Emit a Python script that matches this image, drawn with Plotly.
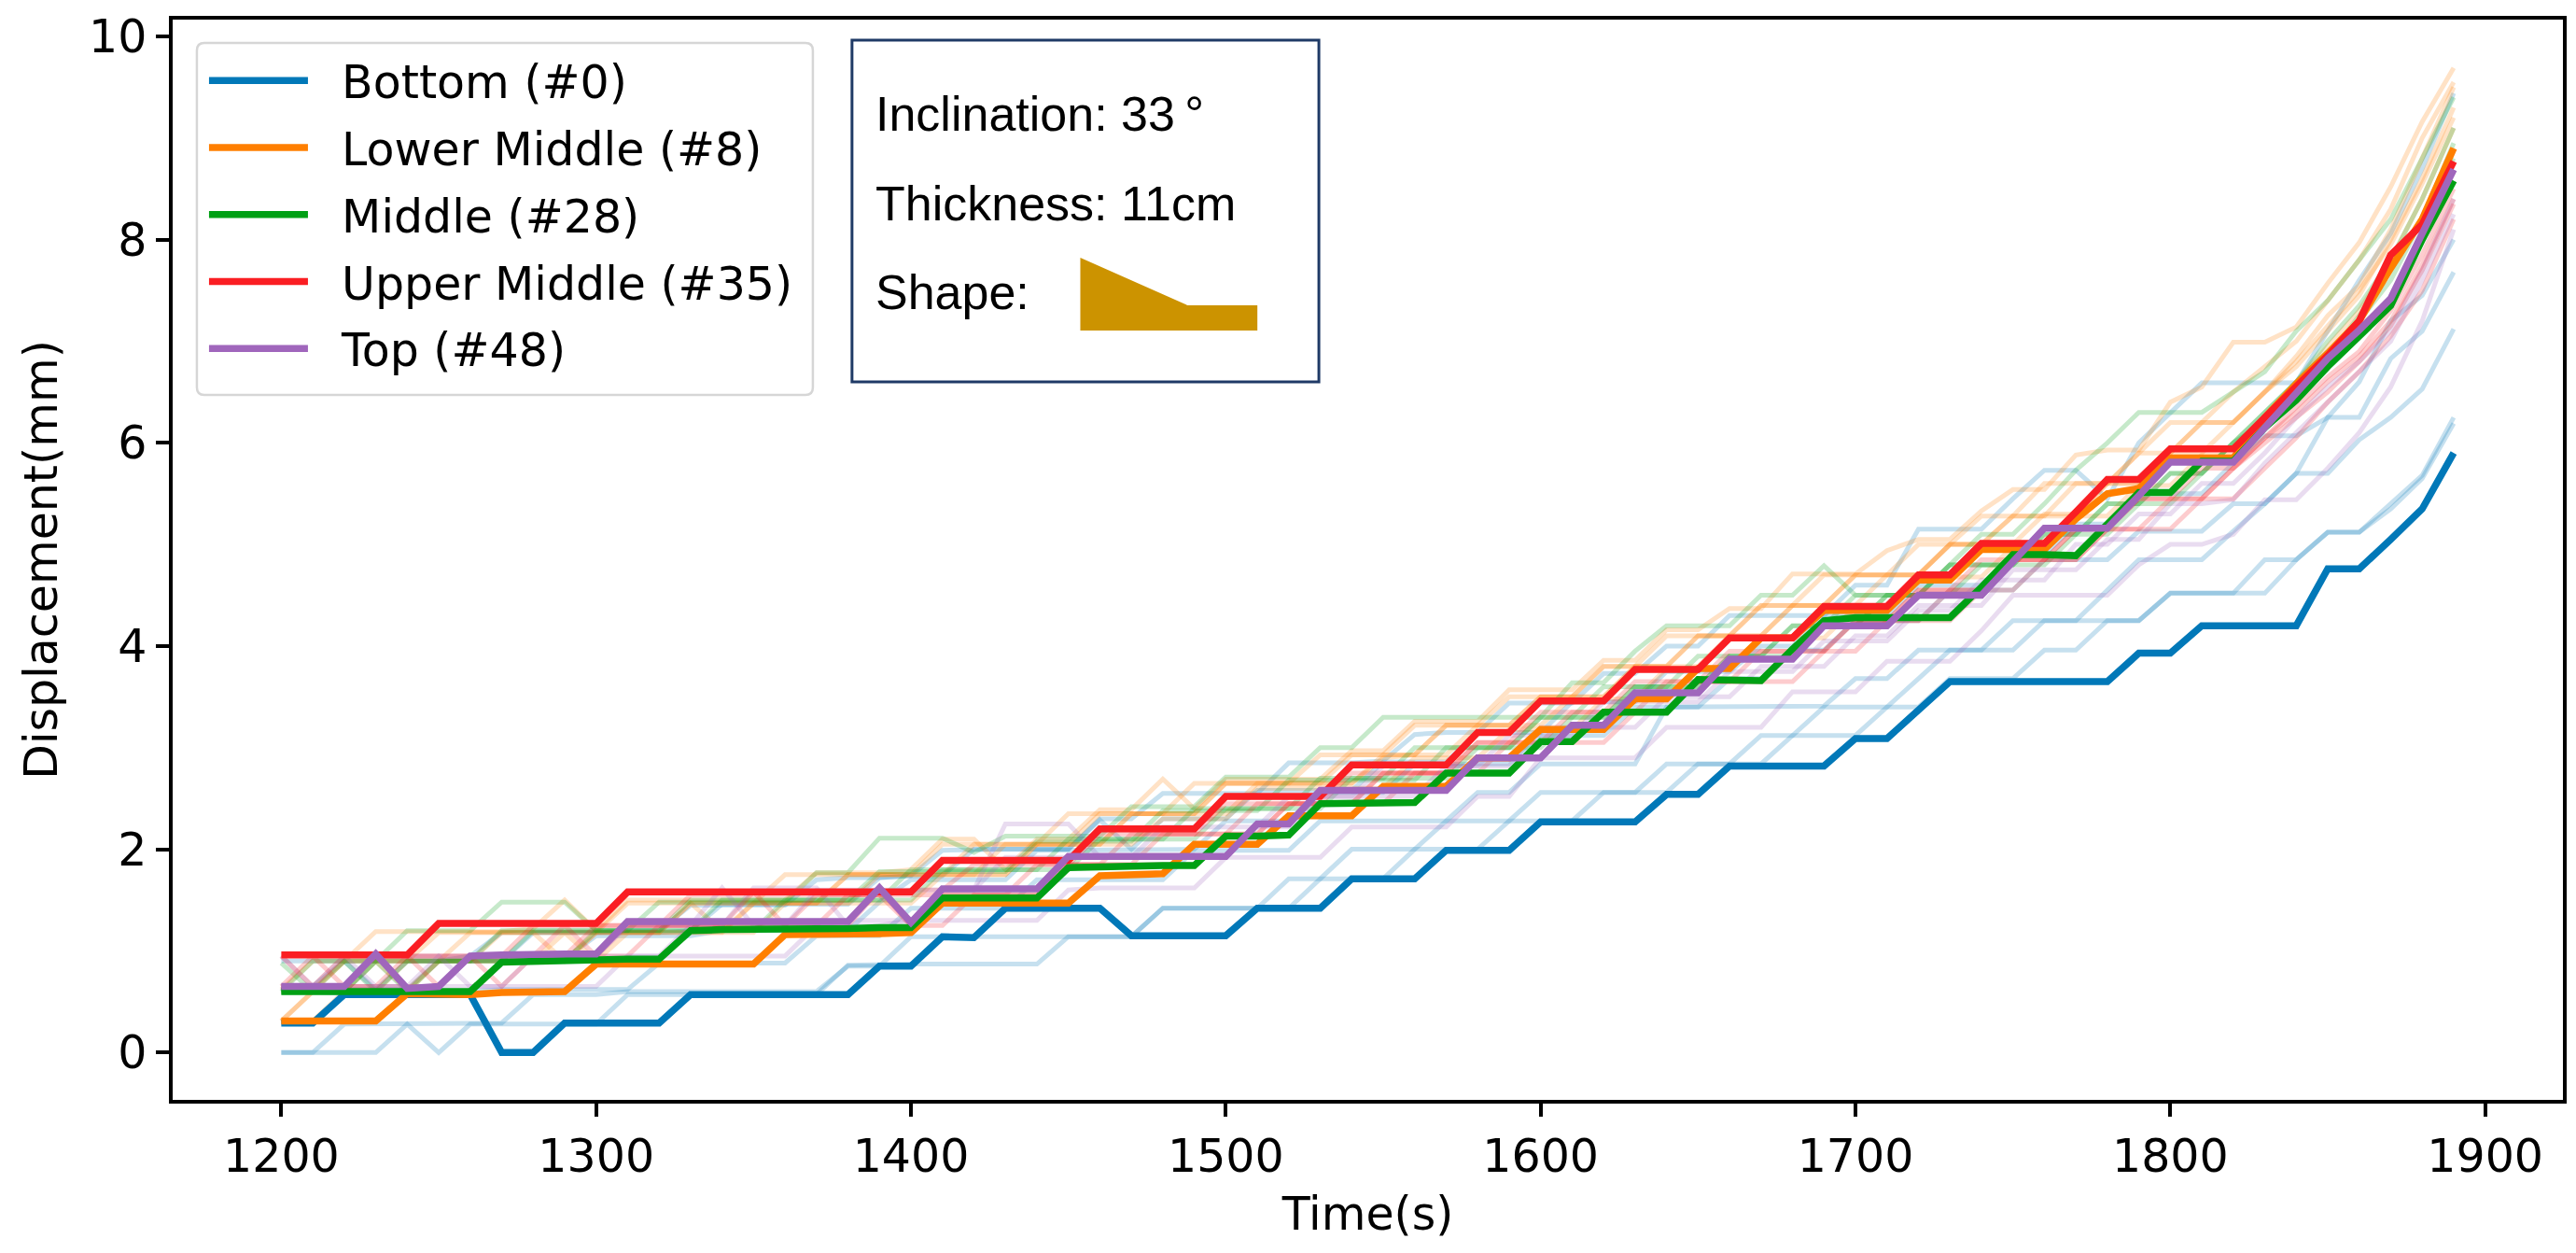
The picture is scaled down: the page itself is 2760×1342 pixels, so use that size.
import plotly.graph_objects as go

time_s = list(range(1200, 1900, 10))

bottom = [.29,.29,.57,.57,.57,.57,.57,0,0,.29, .29,.29,.29,.57,.57,.57,.57,.57,.57,.85,
 .85,1.14,1.13,1.42,1.42,1.42,1.42,1.15,1.15,1.15, 1.15,1.42,1.42,1.42,1.71,1.71,1.71,1.99,1.99,1.99,
 2.27,2.27,2.27,2.27,2.54,2.54,2.82,2.82,2.82,2.82, 3.09,3.09,3.37,3.65,3.65,3.65,3.65,3.65,3.65,3.93,
 3.93,4.2,4.2,4.2,4.2,4.76,4.76,5.05,5.35,5.9]
lower_middle = [.31,.31,.31,.31,.58,.57,.57,.59,.6,.6, .87,.87,.87,.87,.87,.87,1.16,1.16,1.16,1.17,
 1.18,1.47,1.47,1.47,1.47,1.47,1.74,1.75,1.76,2.05, 2.05,2.05,2.33,2.33,2.33,2.62,2.62,2.62,2.9,2.9,
 3.18,3.18,3.18,3.48,3.48,3.78,3.78,4.08,4.08,4.35, 4.35,4.35,4.65,4.65,4.95,4.95,4.95,5.25,5.5,5.55,
 5.85,5.85,5.85,6.25,6.58,6.88,7.2,7.72,8.2,8.9]
middle = [.6,.6,.6,.6,.6,.6,.6,.89,.9,.91, .92,.92,.92,1.2,1.21,1.21,1.22,1.22,1.22,1.23,
 1.23,1.52,1.52,1.52,1.52,1.82,1.83,1.83,1.84,1.84, 2.13,2.13,2.14,2.45,2.45,2.46,2.46,2.75,2.75,2.75,
 3.06,3.06,3.35,3.35,3.35,3.67,3.67,3.66,3.97,4.25, 4.28,4.28,4.28,4.28,4.58,4.9,4.9,4.89,5.2,5.51,
 5.51,5.82,5.82,6.15,6.42,6.75,7.05,7.35,8.0,8.58]
upper_middle = [.96,.96,.96,.96,.96,1.27,1.27,1.27,1.27,1.27, 1.27,1.58,1.58,1.58,1.58,1.58,1.58,1.58,1.58,1.58,
 1.58,1.89,1.89,1.89,1.89,1.89,2.2,2.2,2.2,2.2, 2.52,2.52,2.52,2.52,2.83,2.83,2.83,2.83,3.15,3.15,
 3.46,3.46,3.46,3.77,3.77,3.77,4.08,4.08,4.08,4.39, 4.39,4.39,4.7,4.7,5.01,5.01,5.01,5.32,5.64,5.64,
 5.94,5.94,5.94,6.25,6.56,6.86,7.2,7.85,8.15,8.77]
top = [.65,.65,.65,.97,.63,.65,.95,.96,.97,.97, .97,1.29,1.29,1.29,1.29,1.29,1.29,1.29,1.29,1.62,
 1.28,1.61,1.61,1.61,1.61,1.93,1.93,1.93,1.93,1.93, 1.93,2.25,2.25,2.58,2.58,2.58,2.58,2.58,2.9,2.9,
 2.9,3.22,3.22,3.54,3.54,3.54,3.87,3.87,3.87,4.2, 4.2,4.2,4.5,4.5,4.5,4.83,5.16,5.16,5.16,5.48,
 5.81,5.81,5.81,6.15,6.5,6.83,7.11,7.42,8.06,8.69]

faint_blue_1 = [0,0,0,0,.28,0,.28,.28,.28,.28, .28,.57,.57,.57,.57,.57,.57,.57,.86,.87,
 .87,.87,.87,.87,.87,1.14,1.14,1.14,1.42,1.42, 1.42,1.42,1.42,1.71,1.71,1.71,2.0,2.0,2.0,2.28,
 2.28,2.28,2.56,2.56,2.56,2.84,2.84,2.84,3.12,3.12, 3.12,3.4,3.4,3.68,3.68,3.68,3.96,3.96,4.25,4.25,
 4.52,4.52,4.52,4.52,4.85,5.12,5.12,5.4,5.68,6.25]
faint_blue_2 = [0,0,.28,.28,.28,.29,.29,.29,.57,.57, .57,.6,.6,.6,.6,.6,.6,.6,.85,.85,
 1.14,1.14,1.14,1.14,1.14,1.14,1.14,1.14,1.42,1.42, 1.42,1.42,1.71,1.71,2.0,2.0,2.0,2.28,2.28,2.28,
 2.56,2.56,2.56,2.56,2.84,2.84,2.84,3.12,3.12,3.4, 3.4,3.4,3.68,3.96,3.96,3.96,4.25,4.25,4.25,4.25,
 4.52,4.52,4.52,4.85,4.85,5.12,5.12,5.35,5.65,6.19]
faint_blue_3 = [.6,.6,.58,.58,.6,.6,.6,.62,.62,.62, .62,.62,.88,.88,.88,.88,.88,1.15,1.15,1.15,
 1.42,1.42,1.42,1.42,1.7,1.7,1.7,1.7,1.7,1.99, 1.99,1.99,1.99,2.28,2.28,2.28,2.28,2.28,2.56,2.56,
 2.84,2.84,2.84,2.84,3.4,3.4,3.4,3.4,3.4,3.41, 3.68,3.68,3.96,3.96,3.96,4.25,4.25,4.25,4.55,4.85,
 4.85,4.85,5.13,5.4,5.7,5.7,6.03,6.25,6.53,7.12]
faint_blue_4 = [.62,.62,.62,.62,.62,.9,.9,.92,.92,.92, 1.15,1.15,1.15,1.15,1.2,1.2,1.2,1.2,1.2,1.48,
 1.7,1.7,1.7,1.7,1.99,1.99,1.99,1.99,2.0,2.0, 2.28,2.28,2.28,2.56,2.56,2.56,2.84,2.84,2.84,2.84,
 3.12,3.12,3.12,3.4,3.4,3.4,3.68,3.68,3.96,3.96, 4.25,4.25,4.25,4.55,4.55,4.55,4.85,4.85,4.85,5.13,
 5.13,5.13,5.4,5.4,5.7,6.25,6.25,6.83,7.1,7.68]
faint_blue_5 = [.65,.65,.9,.9,.9,.9,.9,.9,1.18,1.18, 1.18,1.18,1.18,1.2,1.46,1.46,1.46,1.46,1.46,1.72,
 1.74,1.99,2.0,2.0,2.0,2.0,2.29,2.0,2.3,2.3, 2.3,2.58,2.58,2.58,2.58,2.86,2.86,2.86,3.15,3.15,
 3.15,3.45,3.45,3.45,3.75,3.75,3.75,4.0,4.0,4.3, 4.3,4.3,4.6,4.6,4.6,4.9,4.9,5.2,5.2,5.5,
 5.5,5.5,5.8,6.07,6.07,6.25,6.6,7.2,7.45,8.0]
faint_blue_6 = [.9,.9,.9,.62,.9,.9,.95,1.18,1.18,1.18, 1.18,1.2,1.2,1.45,1.45,1.45,1.45,1.7,1.72,1.72,
 1.74,1.74,2.0,2.0,2.0,2.0,2.3,2.3,2.55,2.55, 2.55,2.55,2.85,2.85,2.85,2.87,3.13,3.15,3.15,3.44,
 3.44,3.44,3.73,3.73,4.0,4.0,4.3,4.3,4.3,4.3, 4.6,4.6,5.15,5.15,5.15,5.45,5.73,5.73,5.45,6.0,
 6.3,6.59,6.59,6.59,6.59,7.1,7.6,8.06,8.7,9.44]

faint_orange_1 = [.62,.9,.9,1.19,1.19,1.19,1.19,1.19,1.22,1.5, 1.2,1.5,1.5,1.5,1.5,1.5,1.5,1.77,1.77,1.77,
 1.8,2.1,2.1,1.8,2.1,2.1,2.39,2.39,2.69,2.4, 2.69,2.69,2.69,2.69,2.97,2.97,3.26,3.26,3.26,3.57,
 3.57,3.57,3.86,3.86,4.16,4.16,4.37,4.37,4.71,4.71, 4.71,4.94,5.05,5.05,5.33,5.54,5.54,5.88,5.93,5.93,
 6.4,6.55,6.99,6.99,7.14,7.57,7.97,8.52,9.16,9.69]
faint_orange_2 = [.31,.6,.6,.9,.9,1.18,1.18,1.18,1.18,1.18, 1.18,1.47,1.47,1.47,1.47,1.47,1.47,1.47,1.75,1.75,
 1.75,2.05,2.05,2.05,2.05,2.05,2.35,2.35,2.35,2.35, 2.65,2.65,2.65,2.65,2.93,2.93,3.22,3.22,3.22,3.22,
 3.5,3.5,3.8,3.8,3.8,4.1,4.1,4.4,4.4,4.7, 4.7,4.7,5.0,5.0,5.28,5.28,5.28,5.6,5.6,5.9,
 5.9,6.2,6.2,6.5,6.85,7.25,7.55,8.1,8.8,9.5]
faint_orange_3 = [.62,.62,.9,.9,.62,.9,1.18,1.18,1.18,.9, 1.18,1.18,1.18,1.47,1.47,1.47,1.47,1.47,1.75,1.75,
 1.75,1.75,2.05,2.05,2.05,2.05,2.05,2.35,2.35,2.65, 2.65,2.65,2.65,2.65,2.65,2.9,2.93,3.22,3.22,3.22,
 3.5,3.5,3.5,3.8,3.8,4.1,4.1,4.1,4.4,4.4, 4.7,4.7,4.7,5.0,5.0,5.28,5.28,5.28,5.6,5.6,
 5.9,5.9,6.2,6.5,6.75,7.1,7.45,8.0,8.6,9.3]
faint_orange_4 = [.31,.31,.6,.6,.6,.9,.9,.9,.9,1.18, .9,1.18,1.18,1.18,1.18,1.18,1.47,1.47,1.47,1.47,
 1.47,1.75,1.75,1.75,2.05,2.05,2.05,2.05,2.3,2.3, 2.3,2.6,2.6,2.6,2.6,2.6,2.9,2.9,2.9,3.18,
 3.18,3.18,3.48,3.48,3.78,3.78,3.78,4.08,4.08,4.08, 4.38,4.38,4.68,4.68,4.68,4.98,4.98,5.28,5.28,5.58,
 5.58,5.88,5.88,6.2,6.6,6.95,7.3,7.8,8.4,9.1]
faint_orange_5 = [.6,.6,.9,.9,.9,.9,.9,1.18,1.18,1.18, 1.18,1.18,1.18,1.47,1.2,1.47,1.75,1.75,1.75,1.75,
 1.75,1.75,1.75,2.05,2.05,2.35,2.35,2.35,2.35,2.35, 2.65,2.65,2.65,2.93,2.93,2.93,2.93,3.22,3.22,3.5,
 3.5,3.5,3.8,3.8,4.1,4.1,4.1,4.4,4.4,4.4, 4.7,4.7,4.7,5.0,5.0,5.28,5.6,5.6,5.6,5.9,
 6.2,6.2,6.5,6.75,7.0,7.4,7.8,8.3,9.0,9.55]
faint_orange_6 = [.31,.6,.6,.6,.9,.9,.9,.9,.9,.9, 1.18,1.18,1.18,1.18,1.18,1.47,1.47,1.47,1.47,1.75,
 1.75,1.75,1.75,1.75,2.05,2.05,2.05,2.35,2.35,2.35, 2.35,2.65,2.65,2.65,2.65,2.93,2.93,2.93,3.22,3.22,
 3.22,3.5,3.5,3.8,3.8,3.8,4.1,4.1,4.4,4.4, 4.4,4.7,4.7,5.0,5.0,5.0,5.3,5.3,5.6,5.6,
 5.9,6.2,6.2,6.5,6.8,7.15,7.5,7.95,8.55,9.2]

faint_green_1 = [.62,.6,.9,.9,1.2,1.2,1.2,1.48,1.48,1.48, 1.2,1.2,1.48,1.48,1.48,1.48,1.48,1.77,1.77,2.11,
 2.11,2.11,1.97,2.13,2.13,2.13,2.13,2.42,2.42,2.42, 2.71,2.71,2.71,3.0,3.0,3.3,3.3,3.3,3.3,3.3,
 3.3,3.64,3.64,3.95,4.2,4.2,4.2,4.5,4.5,4.79, 4.5,4.5,4.5,4.8,5.1,5.1,5.4,5.73,6.0,6.3,
 6.3,6.3,6.5,6.7,7.1,7.4,7.8,8.2,8.8,9.4]
faint_green_2 = [.88,.6,.6,.9,.9,.9,.9,1.2,1.2,1.2, 1.2,1.2,1.2,1.5,1.5,1.5,1.5,1.5,1.5,1.78,
 1.78,1.78,1.78,1.78,2.08,2.08,2.08,2.08,2.38,2.38, 2.38,2.38,2.68,2.68,2.68,2.68,2.68,3.0,3.0,3.0,
 3.3,3.3,3.6,3.6,3.6,3.9,3.9,3.9,4.2,4.2, 4.5,4.5,4.5,4.8,4.8,4.8,5.1,5.1,5.4,5.4,
 5.7,5.7,6.0,6.3,6.6,7.0,7.35,7.8,8.4,9.1]
faint_green_3 = [.6,.9,.9,.6,.9,.9,.9,.9,1.2,1.2, 1.2,1.2,1.2,1.2,1.5,1.5,1.5,1.5,1.5,1.5,
 1.8,1.8,1.8,1.8,1.8,2.1,2.1,2.1,2.1,2.4, 2.4,2.4,2.4,2.7,2.7,2.7,3.0,3.0,3.0,3.0,
 3.3,3.3,3.3,3.6,3.6,3.6,3.9,3.9,4.2,4.2, 4.2,4.5,4.5,4.5,4.8,4.8,4.8,5.1,5.4,5.4,
 5.7,5.7,6.0,6.3,6.6,6.9,7.2,7.6,8.2,8.95]
faint_green_4 = [.6,.6,.6,.9,.6,.9,.9,.9,.9,.9, 1.2,1.2,1.2,1.2,1.2,1.2,1.5,1.5,1.5,1.5,
 1.5,1.8,1.8,1.8,1.8,1.8,2.1,2.1,2.1,2.1, 2.4,2.4,2.4,2.4,2.7,2.7,2.7,2.7,3.0,3.0,
 3.0,3.3,3.3,3.6,3.6,3.6,3.9,3.9,3.9,4.2, 4.2,4.5,4.5,4.8,4.8,4.8,5.1,5.1,5.1,5.4,
 5.4,5.7,6.0,6.2,6.5,6.85,7.25,7.7,8.2,8.8]

faint_red_1 = [.65,.65,.95,.95,.95,.95,.95,.95,1.25,1.25, 1.25,1.25,1.25,1.55,1.55,1.55,1.55,1.55,1.55,1.55,
 1.6,1.6,1.85,1.85,1.85,1.85,2.15,2.15,2.15,2.15, 2.45,2.45,2.45,2.45,2.75,2.75,2.75,2.75,3.05,3.05,
 3.35,3.35,3.35,3.65,3.65,3.65,3.95,3.95,3.95,4.25, 4.25,4.25,4.55,4.55,4.85,4.85,4.85,5.15,5.15,5.45,
 5.45,5.75,5.75,6.05,6.35,6.65,6.9,7.3,7.85,8.5]
faint_red_2 = [.65,.95,.65,.95,.95,.65,.95,.95,.95,1.25, .95,1.25,1.25,1.25,1.25,1.25,1.25,1.55,1.55,1.55,
 1.25,1.55,1.55,1.55,1.85,1.85,1.85,1.85,2.15,2.15, 2.15,2.45,2.45,2.45,2.45,2.75,2.75,2.75,2.75,3.05,
 3.05,3.05,3.35,3.35,3.35,3.65,3.65,3.65,3.95,3.95, 4.25,4.25,4.25,4.55,4.55,4.85,4.85,4.85,5.15,5.15,
 5.45,5.45,5.75,6.0,6.25,6.5,6.8,7.15,7.7,8.35]
faint_red_3 = [.95,.65,.65,.65,.95,.95,.95,.65,.95,.95, .95,.95,1.25,1.25,1.25,1.25,1.25,1.25,1.25,1.6,
 1.25,1.25,1.55,1.55,1.55,1.85,1.85,1.85,1.85,1.85, 2.15,2.15,2.45,2.45,2.45,2.45,2.75,2.75,2.75,2.75,
 3.05,3.05,3.05,3.35,3.35,3.65,3.65,3.65,3.65,3.95, 3.95,4.25,4.25,4.25,4.55,4.55,4.85,4.85,5.15,5.15,
 5.15,5.45,5.45,5.75,6.05,6.4,6.7,7.05,7.5,8.2]
faint_red_4 = [.65,.65,.65,.65,.65,.65,.95,.95,.95,.95, 1.25,1.25,1.25,1.25,1.25,1.58,1.25,1.25,1.55,1.55,
 1.55,1.55,1.55,1.55,1.55,1.85,1.85,2.15,2.15,2.15, 2.15,2.15,2.45,2.45,2.45,2.75,2.75,2.75,3.05,3.05,
 3.05,3.35,3.35,3.35,3.65,3.65,3.65,3.95,3.95,3.95, 4.25,4.25,4.55,4.55,4.55,4.85,4.85,5.15,5.15,5.45,
 5.45,5.45,5.75,6.05,6.3,6.6,6.85,7.2,7.75,8.4]

faint_purple_1 = [.65,.65,.65,.65,.65,.65,.65,.65,.65,.65, .65,.95,.95,.95,.95,.95,.95,1.25,1.3,1.3,
 1.3,1.3,1.3,1.3,1.3,1.6,1.62,1.62,1.62,1.62, 1.92,1.92,1.92,1.92,2.22,2.22,2.22,2.22,2.52,2.52,
 2.9,2.9,2.9,2.9,3.2,3.2,3.2,3.2,3.55,3.55, 3.55,3.85,3.85,3.85,4.15,4.5,4.5,4.5,4.5,4.8,
 5.0,5.0,5.1,5.44,5.44,5.75,6.1,6.55,7.2,8.1]
faint_purple_2 = [.95,.65,.95,.65,.65,.95,.65,.65,.95,.95, .95,.95,.95,1.25,1.25,1.62,1.62,1.62,1.25,1.25,
 1.3,1.6,1.6,2.25,2.25,2.25,1.92,1.92,1.92,1.92, 1.92,2.22,2.22,2.52,2.52,2.52,2.52,2.82,2.82,2.82,
 3.2,3.2,3.2,3.2,3.5,3.5,3.5,3.8,3.8,3.8, 4.1,4.1,4.4,4.4,4.4,4.75,4.75,4.75,5.05,5.05,
 5.4,5.4,5.44,5.8,6.1,6.4,6.7,7.0,7.6,8.25]
faint_purple_3 = [.65,.65,.65,.95,.95,.95,.95,.95,.95,.95, .95,1.25,1.25,1.25,1.62,1.25,1.25,1.6,1.6,1.6,
 1.6,1.6,1.6,1.92,1.92,1.92,1.92,1.92,2.22,2.22, 2.22,2.22,2.52,2.52,2.52,2.82,2.82,2.82,2.82,3.12,
 3.12,3.12,3.45,3.45,3.45,3.45,3.75,3.75,3.75,4.05, 4.05,4.05,4.35,4.35,4.65,4.65,4.65,5.0,5.0,5.3,
 5.3,5.6,5.6,5.9,6.25,6.55,6.8,7.1,7.7,8.4]

BLUE, ORANGE, GREEN, RED, PURPLE = "#0178B8", "#FF7F00", "#00A014", "#FA1E23", "#A066BC"
LEGEND_PAD = "\u00a0\u00a0"

main_series = [("Bottom (#0)", bottom, BLUE), ("Lower Middle (#8)", lower_middle, ORANGE),
               ("Middle (#28)", middle, GREEN), ("Upper Middle (#35)", upper_middle, RED),
               ("Top (#48)", top, PURPLE)]
faint_series = [(faint_blue_1, BLUE), (faint_blue_2, BLUE), (faint_blue_3, BLUE), (faint_blue_4, BLUE),
                (faint_blue_5, BLUE), (faint_blue_6, BLUE),
                (faint_orange_1, ORANGE), (faint_orange_2, ORANGE), (faint_orange_3, ORANGE),
                (faint_orange_4, ORANGE), (faint_orange_5, ORANGE), (faint_orange_6, ORANGE),
                (faint_green_1, GREEN), (faint_green_2, GREEN), (faint_green_3, GREEN), (faint_green_4, GREEN),
                (faint_red_1, RED), (faint_red_2, RED), (faint_red_3, RED), (faint_red_4, RED),
                (faint_purple_1, PURPLE), (faint_purple_2, PURPLE), (faint_purple_3, PURPLE)]

for values, _ in faint_series:
    assert len(values) == len(time_s)
for _, values, _c in main_series:
    assert len(values) == len(time_s)

W, H = 2760, 1342
L, R, T, B = 185, 2750, 21, 1178
def px(x): return (x - L) / (R - L)
def py(y): return 1 - (y - T) / (B - T)

fig = go.Figure()
for values, color in faint_series:
    fig.add_trace(go.Scatter(x=time_s, y=values, mode="lines", showlegend=False, hoverinfo="skip",
                             opacity=0.22, line=dict(color=color, width=5)))
for i, (name, values, color) in enumerate(main_series):
    fig.add_trace(go.Scatter(x=time_s, y=values, mode="lines", name=LEGEND_PAD + name, legendgroup=f"g{i}",
                             line=dict(color=color, width=7.5)))

FONT = "DejaVu Sans"
INFO = "Liberation Sans"
SIZE = 49

def rounded(x0, y0, x1, y1, r):
    X0, X1, Y0, Y1 = px(x0), px(x1), py(y0), py(y1)
    rx, ry = r / (R - L), r / (B - T)
    return (f"M {X0+rx} {Y0} L {X1-rx} {Y0} Q {X1} {Y0} {X1} {Y0-ry} L {X1} {Y1+ry} Q {X1} {Y1} {X1-rx} {Y1} "
            f"L {X0+rx} {Y1} Q {X0} {Y1} {X0} {Y1+ry} L {X0} {Y0-ry} Q {X0} {Y0} {X0+rx} {Y0} Z")

shapes = [
    dict(type="path", xref="paper", yref="paper", layer="above", path=rounded(211, 46, 872, 423, 8),
         line=dict(color="#D6D6D6", width=2.5), fillcolor="rgba(255,255,255,0.8)"),
    dict(type="rect", xref="paper", yref="paper", layer="above", x0=px(914), x1=px(1415), y0=py(409), y1=py(43),
         line=dict(color="#1F3A66", width=3), fillcolor="white"),
    dict(type="path", xref="paper", yref="paper", layer="above", line=dict(width=0), fillcolor="#CC9300",
         path=f"M {px(1159)} {py(276)} L {px(1274)} {py(327)} L {px(1349)} {py(327)} L {px(1349)} {py(354)} L {px(1159)} {py(354)} Z"),
]

annotations = [dict(xref="paper", yref="paper", x=px(937), y=py(yy), xanchor="left", yanchor="middle",
                    text=txt, showarrow=False, font=dict(family=INFO, size=52, color="black"))
               for txt, yy in [("Inclination: 33\u2009°", 122), ("Thickness: 11cm", 218), ("Shape:", 313)]]

fig.update_layout(
    width=W, height=H, autosize=False,
    margin=dict(l=L, r=W - R, t=T, b=H - B, pad=0),
    paper_bgcolor="white", plot_bgcolor="white",
    font=dict(family=FONT, size=SIZE, color="black"),
    shapes=shapes, annotations=annotations,
    legend=dict(x=px(219), y=py(48), xanchor="left", yanchor="top", bgcolor="rgba(0,0,0,0)", borderwidth=0,
                itemwidth=106, tracegroupgap=5, font=dict(family=FONT, size=SIZE),
                traceorder="grouped", itemclick=False),
    xaxis=dict(range=[1165.5, 1924.7], tickmode="array", tickvals=[1200, 1300, 1400, 1500, 1600, 1700, 1800, 1900],
               ticks="outside", ticklen=14, tickwidth=3.5, tickcolor="black", showgrid=False, zeroline=False,
               showline=True, linecolor="black", linewidth=3.5, mirror=True,
               title=dict(text="Time(s)", standoff=18, font=dict(family=FONT, size=SIZE))),
    yaxis=dict(range=[-0.466, 10.165], tickmode="array", tickvals=[0, 2, 4, 6, 8, 10],
               ticks="outside", ticklen=14, tickwidth=3.5, tickcolor="black", showgrid=False, zeroline=False,
               showline=True, linecolor="black", linewidth=3.5, mirror=True,
               title=dict(text="Displacement(mm)", standoff=19, font=dict(family=FONT, size=SIZE))),
)

fig.write_html("out.html", config=dict(displayModeBar=False),
               post_script="document.body.style.margin='0';")
